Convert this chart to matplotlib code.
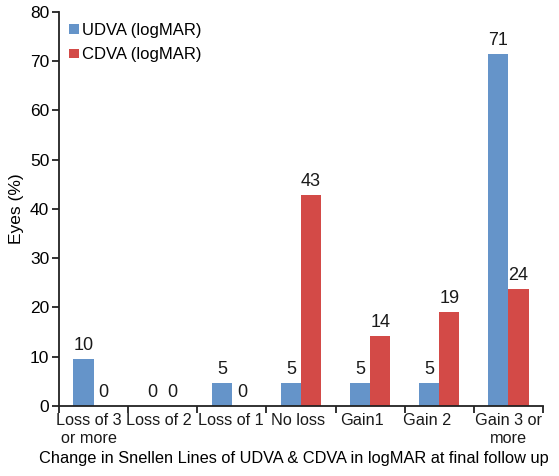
import matplotlib
matplotlib.use("Agg")
import matplotlib.pyplot as plt
import matplotlib.transforms as mtransforms
import numpy as np

plt.rcParams['font.family'] = ['Liberation Sans', 'DejaVu Sans']

categories = ["Loss of 3\nor more", "Loss of 2", "Loss of 1", "No loss", "Gain1", "Gain 2", "Gain 3 or\nmore"]
udva = [9.52, 0, 4.76, 4.76, 4.76, 4.76, 71.43]
cdva = [0, 0, 0, 42.86, 14.29, 19.05, 23.81]
udva_labels = ["10", "0", "5", "5", "5", "5", "71"]
cdva_labels = ["0", "0", "0", "43", "14", "19", "24"]
series_names = ["UDVA (logMAR)", "CDVA (logMAR)"]
yticks = [0, 10, 20, 30, 40, 50, 60, 70, 80]

# layout only: horizontal nudges (pixels) of the category labels as in the reference
label_nudge_px = [-5, -4, -1.5, -2.5, -8, -12, 0]

blue = "#6594C9"
red = "#D34A47"

fig = plt.figure(figsize=(5.59, 4.76), dpi=100)
ax = fig.add_axes([0.1055, 0.147, 0.866, 0.828])

x = np.arange(len(categories))
w = 0.29
ax.bar(x - w/2, udva, w, color=blue, label=series_names[0])
ax.bar(x + w/2, cdva, w, color=red, label=series_names[1])

for xi, v, t in zip(x - w/2, udva, udva_labels):
    ax.text(xi, v + 1.0, t, ha='center', va='bottom', fontsize=13, color='#1a1a1a')
for xi, v, t in zip(x + w/2, cdva, cdva_labels):
    ax.text(xi, v + 1.0, t, ha='center', va='bottom', fontsize=13, color='#1a1a1a')

ax.set_xlim(-0.5, len(categories) - 0.5)
ax.set_ylim(0, 80)
ax.set_yticks(yticks)
ax.set_yticklabels([str(t) for t in yticks], fontsize=12.5)
ax.set_xticks(x)
ax.set_xticklabels([""] * len(categories))
ax.tick_params(axis='x', length=0, pad=5)
ax.set_xticks(np.arange(len(categories) + 1) - 0.5, minor=True)
ax.tick_params(axis='x', which='minor', length=5, width=1.3, direction='out', color='#222222')
ax.tick_params(axis='y', length=5, width=1.3, direction='out', color='#222222', pad=2)

base = ax.get_xaxis_transform()
for xi, lab, dx in zip(x, categories, label_nudge_px):
    tr = base + mtransforms.ScaledTranslation(dx / 100.0, -5 / 72.0, fig.dpi_scale_trans)
    ax.text(xi, 0, lab, transform=tr, ha='center', va='top', fontsize=11.7,
            linespacing=1.22, multialignment='center', color='#1a1a1a')

for s in ['top', 'right']:
    ax.spines[s].set_visible(False)
for s in ['left', 'bottom']:
    ax.spines[s].set_linewidth(1.3)
    ax.spines[s].set_color('#222222')

ax.set_ylabel("Eyes (%)", fontsize=12.5, labelpad=4)
ax.set_xlabel("Change in Snellen Lines of UDVA & CDVA in logMAR at final follow up", fontsize=11.8)
ax.xaxis.set_label_coords(0.4845, -0.115, transform=ax.transAxes)
ax.xaxis.label.set_va('top')

leg = ax.legend(loc='upper left', bbox_to_anchor=(-0.01, 1.01), frameon=False, fontsize=12,
                handlelength=0.6, handleheight=0.5, handletextpad=0.2, labelspacing=0.57)

fig.savefig("out.png", dpi=100)
